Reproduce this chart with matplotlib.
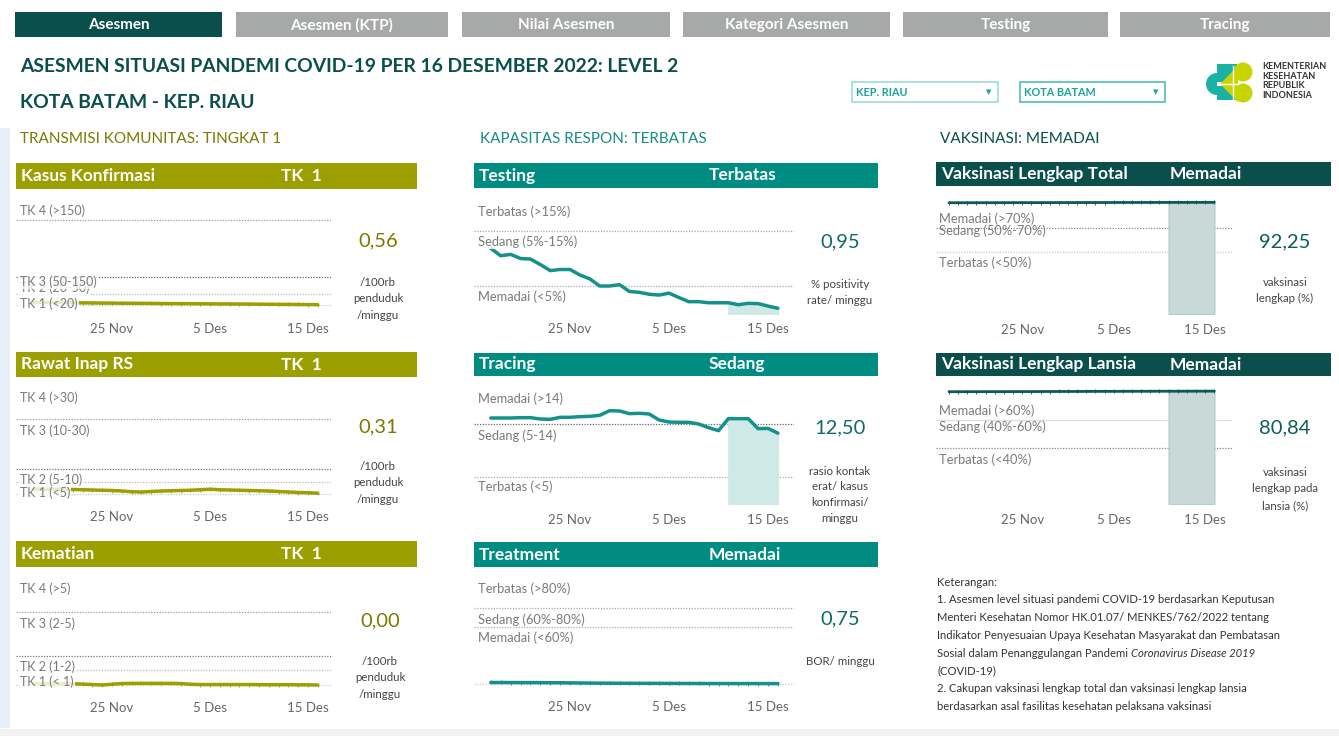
import pandas as pd
import matplotlib
matplotlib.use("Agg")
import matplotlib.pyplot as plt
import matplotlib.dates as mdates
import matplotlib.transforms as mtrans
from matplotlib.patches import Rectangle, Circle, Wedge, Polygon

plt.rcParams['font.family'] = ['Lato', 'DejaVu Sans']

W, H = 1339, 736

# ---- data ----
dates = pd.date_range("2022-11-17", "2022-12-16", freq="D")
tick_dates = pd.to_datetime(["2022-11-25", "2022-12-05", "2022-12-15"])
tick_labels = ["25 Nov", "5 Des", "15 Des"]
last_week_start = pd.Timestamp("2022-12-11")

kasus = [4.6, 4.4, 4.3, 4.1, 4.0, 3.8, 3.6, 3.4, 3.3, 3.1, 3.0, 2.9, 2.8, 2.6, 2.5,
         2.4, 2.3, 2.2, 2.0, 1.9, 1.8, 1.7, 1.6, 1.4, 1.3, 1.1, 1.0, 0.9, 0.7, 0.56]
rawat = [1.9, 1.9, 1.9, 1.9, 1.8, 1.7, 1.6, 1.5, 1.4, 1.2, 0.9, 0.8, 1.0, 1.2, 1.3,
         1.4, 1.5, 1.7, 1.9, 1.7, 1.6, 1.5, 1.4, 1.3, 1.2, 1.0, 0.8, 0.6, 0.5, 0.31]
kematian = [0.08, 0.08, 0.08, 0.08, 0.08, 0.06, 0.03, 0.0, 0.05, 0.1, 0.11, 0.11, 0.11, 0.11, 0.11,
            0.1, 0.05, 0.03, 0.03, 0.03, 0.03, 0.03, 0.03, 0.02, 0.02, 0.02, 0.02, 0.01, 0.01, 0.0]
testing = [11.85, 10.5, 10.75, 10.0, 9.9, 8.9, 7.8, 8.0, 8.0, 7.0, 6.3, 5.0, 5.0, 5.25, 4.0,
           3.85, 3.5, 3.35, 3.7, 2.9, 2.15, 2.15, 1.95, 1.95, 1.95, 1.6, 1.85, 1.8, 1.35, 0.95]
tracing = [15.11, 15.11, 15.11, 15.17, 15.17, 14.94, 14.88, 15.23, 15.23, 15.34, 15.4, 15.57, 16.37, 16.32, 15.86,
           15.92, 15.8, 14.77, 14.42, 14.37, 14.37, 14.08, 13.45, 12.93, 15.0, 15.0, 15.0, 13.28, 13.33, 12.50]
treatment = [1.9, 1.9, 1.85, 1.8, 1.8, 1.75, 1.7, 1.6, 1.5, 1.4, 1.3, 1.2, 1.15, 1.1, 1.05,
             1.0, 1.0, 0.95, 0.9, 0.9, 0.85, 0.85, 0.8, 0.8, 0.8, 0.78, 0.78, 0.76, 0.75, 0.75]
vaksin_total = [91.90, 91.91, 91.93, 91.94, 91.95, 91.96, 91.97, 91.99, 92.00, 92.01, 92.02, 92.03, 92.05, 92.06, 92.07,
                92.08, 92.09, 92.10, 92.12, 92.13, 92.14, 92.15, 92.16, 92.17, 92.19, 92.20, 92.21, 92.22, 92.24, 92.25]
vaksin_lansia = [80.40, 80.42, 80.43, 80.45, 80.46, 80.48, 80.49, 80.51, 80.52, 80.54, 80.55, 80.57, 80.58, 80.60, 80.61,
                 80.63, 80.64, 80.66, 80.67, 80.69, 80.70, 80.72, 80.73, 80.75, 80.76, 80.78, 80.79, 80.81, 80.82, 80.84]

tabs = ["Asesmen", "Asesmen (KTP)", "Nilai Asesmen", "Kategori Asesmen", "Testing", "Tracing"]

# colors
OLIVE = "#9b9f00"
OLIVE_TXT = "#7a7a00"
TEAL = "#008c80"
TEAL_TXT = "#0f6b64"
DARK = "#0a4f4c"
GRAY_TAB = "#a7a9a9"

fig = plt.figure(figsize=(W / 100, H / 100), dpi=100)
bg = fig.add_axes([0, 0, 1, 1])
bg.set_xlim(0, W)
bg.set_ylim(H, 0)
bg.axis("off")

# side stripe + bottom band
bg.add_patch(Rectangle((0, 128), 10, 600, color="#e8eef8", lw=0))
bg.add_patch(Rectangle((0, 729), W, 7, color="#f2f2f2", lw=0))

# tabs
tab_x = [(15, 222), (236, 448), (462, 670), (683, 890), (903, 1108), (1120, 1330)]
for i, (name, (x0, x1)) in enumerate(zip(tabs, tab_x)):
    bg.add_patch(Rectangle((x0, 12), x1 - x0, 25, color=DARK if i == 0 else GRAY_TAB, lw=0))
    bg.text((x0 + x1) / 2, 25, name, color="white", fontsize=11, fontweight="bold",
            ha="center", va="center")

# titles
bg.text(20, 67, "ASESMEN SITUASI PANDEMI COVID-19 PER 16 DESEMBER 2022: LEVEL 2",
        color=DARK, fontsize=13.9, fontweight="bold", va="center")
bg.text(20, 102, "KOTA BATAM - KEP. RIAU", color=DARK, fontsize=13.9, fontweight="bold", va="center")

# dropdowns
for (x0, x1, txt, ec) in [(852, 998, "KEP. RIAU", "#a4ddd7"), (1020, 1165, "KOTA BATAM", "#5cc4b9")]:
    bg.add_patch(Rectangle((x0, 82), x1 - x0, 20, fc="white", ec=ec, lw=1.3))
    bg.text(x0 + 4, 92, txt, color="#1aa596", fontsize=7.8, fontweight="bold", va="center")
    bg.text(x1 - 9, 92, "\u25BC", color="#1aa596", fontsize=5, ha="center", va="center",
            family="DejaVu Sans")

# logo
LT = "#1bb2a6"
LY = "#c8d400"
bg.add_patch(Wedge((1217, 84), 11, 90, 270, color=LT, lw=0))
bg.add_patch(Wedge((1227, 64), 10, 0, 180, color=LT, lw=0))
bg.add_patch(Rectangle((1217, 64), 20, 18, color=LT, lw=0))
bg.add_patch(Wedge((1227, 100), 10, 180, 360, color=LT, lw=0))
bg.add_patch(Rectangle((1217, 86), 20, 14, color=LT, lw=0))
bg.add_patch(Circle((1243, 72), 9.5, color=LY, lw=0))
bg.add_patch(Circle((1243, 93), 9.5, color=LY, lw=0))
bg.add_patch(Polygon([(1220, 84), (1238, 66), (1238, 84)], color=LY, lw=0))
bg.add_patch(Polygon([(1220, 84), (1238, 84), (1238, 102)], color=LY, lw=0))
bg.plot([1219, 1238], [84, 84], color="white", lw=1)
bg.plot([1233, 1233], [66, 102], color="white", lw=1)
bg.text(1262, 81, "KEMENTERIAN\nKESEHATAN\nREPUBLIK\nINDONESIA", color="#333333",
        fontsize=6.5, fontweight="bold", va="center", linespacing=1.12)

# section headers
bg.text(20, 139, "TRANSMISI KOMUNITAS: TINGKAT 1", color=OLIVE_TXT, fontsize=11, va="center")
bg.text(480, 139, "KAPASITAS RESPON: TERBATAS", color="#168c82", fontsize=11, va="center")
bg.text(940, 139, "VAKSINASI: MEMADAI", color=DARK, fontsize=11, va="center")


def header(x0, y0, x1, y1, color, title, status, sx):
    bg.add_patch(Rectangle((x0, y0), x1 - x0, y1 - y0, color=color, lw=0))
    yc = (y0 + y1) / 2
    bg.text(x0 + 5, yc, title, color="white", fontsize=12.5, fontweight="bold", va="center")
    bg.text(sx, yc, status, color="white", fontsize=12.5, fontweight="bold", va="center")


def chart(box, zero_px, ppu, x_first, ppd, values, color, refs, labels, lab_x, tick_y,
          fill=None, marker=None, lw=2.2, lab_bbox=True, lab_size=9.3):
    x0, y0, x1, y1 = box
    ax = fig.add_axes([x0 / W, 1 - y1 / H, (x1 - x0) / W, (y1 - y0) / H])
    ax.set_facecolor("none")
    d0 = mdates.date2num(dates[0])
    ax.set_xlim(d0 - (x_first - x0) / ppd, d0 + (x1 - x_first) / ppd)
    ax.set_ylim((zero_px - y1) / ppu, (zero_px - y0) / ppu)
    ax.axis("off")
    for v, c, ls in refs:
        ax.axhline(v, color=c, lw=0.9, ls=ls, zorder=1)
    if fill is not None:
        mask = dates >= last_week_start
        ax.fill_between(dates[mask], ax.get_ylim()[0], pd.Series(values)[mask], color=fill[0],
                        ec=fill[1], lw=1, zorder=2)
    ax.plot(dates, values, color=color, lw=lw, zorder=3, solid_capstyle="round",
            marker=marker, ms=2.5, mew=0.6, mec=color)
    # threshold labels placed in pixel coords over the lines
    for txt, ly in labels:
        kw = {}
        if lab_bbox:
            kw["bbox"] = dict(fc="white", ec="none", alpha=0.8, pad=0.6)
        ax.text(lab_x, ly, txt, transform=bg.transData, color="#7a7a7a", fontsize=lab_size,
                va="center", zorder=5, clip_on=False, **kw)
    tr = mtrans.blended_transform_factory(ax.transData, bg.transData)
    for d, s in zip(tick_dates, tick_labels):
        ax.text(d, tick_y, s, transform=tr, ha="center", va="center", color="#666666",
                fontsize=9.5, clip_on=False)
    return ax


def value_block(x, y, val, color, unit, uy, ls=1.6):
    bg.text(x, y, val, color=color, fontsize=14.5, ha="center", va="center")
    bg.text(x, uy, unit, color="#444444", fontsize=8.3, ha="center", va="top", linespacing=ls)


DOT = (0, (1, 1.2))
# ---- left column ----
header(16, 163, 417, 189, OLIVE, "Kasus Konfirmasi", "TK  1", 281)
chart((16, 192, 331, 314), 305, 0.567, 33.6, 9.8, kasus, OLIVE,
      [(150, "#999999", DOT), (50, "#666666", DOT), (20, "#bbbbbb", DOT), (0, "#cccccc", DOT)],
      [("TK 2 (20-50)", 288), ("TK 3 (50-150)", 282), ("TK 4 (>150)", 211), ("TK 1 (<20)", 304)],
      20, 329, marker="|", lab_size=9, lw=2.5)
value_block(378, 241, "0,56", OLIVE_TXT, "/100rb\npenduduk\n/minggu", 277)

header(16, 352, 417, 377, OLIVE, "Rawat Inap RS", "TK  1", 281)
chart((16, 381, 331, 504), 494, 2.5, 33.6, 9.8, rawat, OLIVE,
      [(30, "#999999", DOT), (10, "#777777", DOT), (5, "#bbbbbb", DOT), (0, "#cccccc", DOT)],
      [("TK 4 (>30)", 398), ("TK 3 (10-30)", 431), ("TK 1 (<5)", 493), ("TK 2 (5-10)", 480)],
      20, 517, marker="|", lab_size=9, lw=2.5)
value_block(378, 427, "0,31", OLIVE_TXT, "/100rb\npenduduk\n/minggu", 461)

header(16, 541, 417, 567, OLIVE, "Kematian", "TK  1", 281)
chart((16, 572, 331, 690), 685, 14.6, 33.6, 9.8, kematian, OLIVE,
      [(5, "#999999", DOT), (2, "#777777", DOT), (1, "#bbbbbb", DOT), (0, "#cccccc", DOT)],
      [("TK 4 (>5)", 589), ("TK 3 (2-5)", 624), ("TK 2 (1-2)", 667), ("TK 1 (< 1)", 682)],
      20, 708, marker="|", lab_size=9, lw=2.5)
value_block(380, 621, "0,00", OLIVE_TXT, "/100rb\npenduduk\n/minggu", 656)

# ---- middle column ----
header(474, 163, 878, 188, TEAL, "Testing", "Terbatas", 709)
chart((474, 192, 794, 314), 313.5, 5.5, 490.8, 9.9, testing, "#14918a",
      [(15, "#aaaaaa", DOT), (5, "#aaaaaa", DOT)],
      [("Terbatas (>15%)", 212), ("Sedang (5%-15%)", 242), ("Memadai (<5%)", 297)],
      478, 329, fill=("#cfe9e6", "#cfe9e6"), lw=2.5)
value_block(840, 242, "0,95", TEAL_TXT, "% positivity\nrate/ minggu", 279)

header(474, 353, 878, 376, TEAL, "Tracing", "Sedang", 709)
chart((474, 381, 794, 504), 505.8, 5.81, 490.8, 9.9, tracing, "#14918a",
      [(14, "#666666", DOT), (5, "#aaaaaa", DOT)],
      [("Memadai (>14)", 399), ("Sedang (5-14)", 436), ("Terbatas (<5)", 487)],
      478, 520, fill=("#cfe9e6", "#cfe9e6"), lw=2.5)
value_block(840, 428, "12,50", TEAL_TXT, "rasio kontak\nerat/ kasus\nkonfirmasi/\nminggu", 466, ls=1.5)

header(474, 542, 878, 567, TEAL, "Treatment", "Memadai", 709)
chart((474, 572, 794, 690), 684.3, 0.95, 490.8, 9.9, treatment, "#14918a",
      [(80, "#aaaaaa", DOT), (60, "#aaaaaa", DOT), (0, "#cccccc", DOT)],
      [("Terbatas (>80%)", 589), ("Sedang (60%-80%)", 620), ("Memadai (<60%)", 638)],
      478, 707, marker="|", lab_bbox=False, lw=2.5)
value_block(840, 619, "0,75", TEAL_TXT, "BOR/ minggu", 656)

# ---- right column ----
header(936, 162, 1331, 186, DARK, "Vaksinasi Lengkap Total", "Memadai", 1170)
chart((936, 190, 1232, 314), 310, 1.167, 949, 9.15, vaksin_total, "#0b5a55",
      [(70, "#888888", DOT), (50, "#cccccc", DOT)],
      [("Memadai (>70%)", 219), ("Sedang (50%-70%)", 231), ("Terbatas (<50%)", 263)],
      939, 330, fill=("#c8d9d8", "#b5cfcc"), marker="|", lw=2, lab_bbox=False)
value_block(1285, 242, "92,25", "#0b5e57", "vaksinasi\nlengkap (%)", 277)

header(936, 353, 1331, 376, DARK, "Vaksinasi Lengkap Lansia", "Memadai", 1170)
chart((936, 381, 1232, 504), 504.3, 1.4, 949, 9.15, vaksin_lansia, "#0b5a55",
      [(60, "#dddddd", "-"), (40, "#888888", DOT)],
      [("Memadai (>60%)", 411), ("Sedang (40%-60%)", 427), ("Terbatas (<40%)", 460)],
      939, 520, fill=("#c8d9d8", "#b5cfcc"), marker="|", lw=2, lab_bbox=False)
value_block(1285, 428, "80,84", "#0b5e57", "vaksinasi\nlengkap pada\nlansia (%)", 467)

# ---- keterangan ----
ket_lines = [
    "Keterangan:",
    "1. Asesmen level situasi pandemi COVID-19 berdasarkan Keputusan",
    "Menteri Kesehatan Nomor HK.01.07/ MENKES/762/2022 tentang",
    "Indikator Penyesuaian Upaya Kesehatan Masyarakat dan Pembatasan",
    "Sosial dalam Penanggulangan Pandemi ",
    "(COVID-19)",
    "2. Cakupan vaksinasi lengkap total dan vaksinasi lengkap lansia",
    "berdasarkan asal fasilitas kesehatan pelaksana vaksinasi",
]
renderer = fig.canvas.get_renderer()
for i, line in enumerate(ket_lines):
    t = bg.text(937, 582 + i * 17.8, line, color="#333333", fontsize=8.1, va="center")
    if i == 4:
        ext = t.get_window_extent(renderer=renderer)
        xe = bg.transData.inverted().transform((ext.x1, ext.y0))[0]
        bg.text(xe, 582 + i * 17.8, "Coronavirus Disease 2019", color="#333333", fontsize=8.1,
                va="center", style="italic")

fig.savefig("out.png", dpi=100)
